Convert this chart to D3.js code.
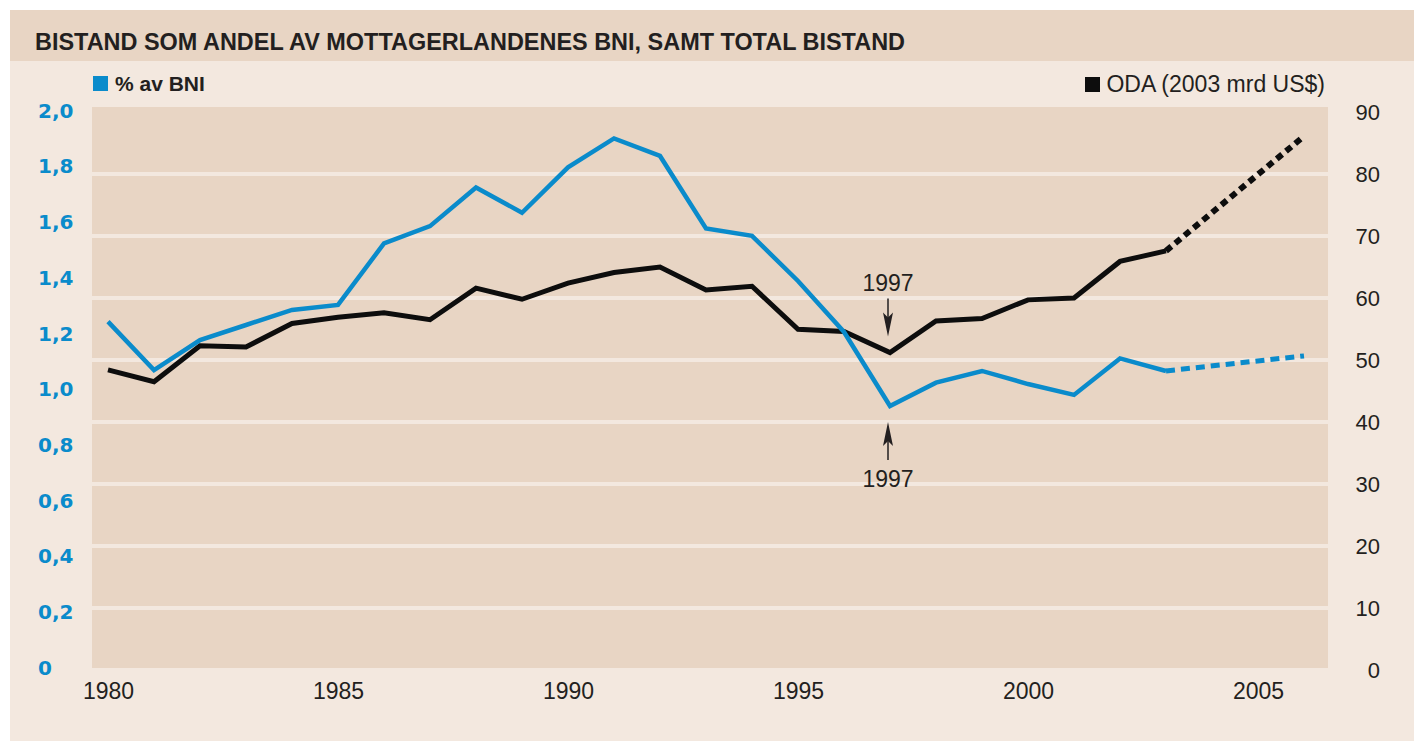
<!DOCTYPE html>
<html>
<head>
<meta charset="utf-8">
<script src="https://cdn.jsdelivr.net/npm/d3@7"></script>
<style>
  body { margin: 0; background: #fff; }
  svg { display: block; }
</style>
</head>
<body>
<div id="area"></div>
<script>
// data
var years = [1980, 1981, 1982, 1983, 1984, 1985, 1986, 1987, 1988, 1989, 1990, 1991,
             1992, 1993, 1994, 1995, 1996, 1997, 1998, 1999, 2000, 2001, 2002, 2003];
var bni = [1.24, 1.066, 1.174, 1.228, 1.282, 1.30, 1.521, 1.583, 1.722, 1.631, 1.794, 1.898,
           1.835, 1.575, 1.548, 1.386, 1.203, 0.937, 1.021, 1.063, 1.016, 0.977, 1.108, 1.063];
var oda = [48.4, 46.5, 52.3, 52.1, 55.9, 56.9, 57.6, 56.5, 61.6, 59.8, 62.4, 64.1,
           65.0, 61.3, 61.9, 54.95, 54.6, 51.2, 56.3, 56.7, 59.7, 60.0, 65.9, 67.6];
var projYears = [2003, 2006];
var bniProj = [1.063, 1.117];
var odaProj = [67.6, 86.1];

var xTicks = [1980, 1985, 1990, 1995, 2000, 2005];
var leftTicks = [0, 0.2, 0.4, 0.6, 0.8, 1.0, 1.2, 1.4, 1.6, 1.8, 2.0];
var rightTicks = [0, 10, 20, 30, 40, 50, 60, 70, 80, 90];

var titleText = "BISTAND SOM ANDEL AV MOTTAGERLANDENES BNI, SAMT TOTAL BISTAND";
var legendBni = "% av BNI";
var legendOda = "ODA (2003 mrd US$)";
var noteYear = 1997;

var width = 1424, height = 741;
var bgOuter = "#f3e8df", bgPlot = "#e8d5c4";
var blue = "#0a8bcb", black = "#0d0d0d", ink = "#231f20";
var plotL = 92, plotR = 1328, plotT = 107, plotB = 668;

var svg = d3.select("#area")
.append("svg")
  .attr("width", width)
  .attr("height", height);

// panels
svg.append("rect").attr("x", 10).attr("y", 10).attr("width", 1404).attr("height", 731).style("fill", bgOuter);
svg.append("rect").attr("x", 10).attr("y", 10).attr("width", 1404).attr("height", 51).style("fill", bgPlot);
svg.append("text")
  .attr("x", 35).attr("y", 50)
  .attr("textLength", 870).attr("lengthAdjust", "spacingAndGlyphs")
  .style("font-family", "'Liberation Sans', Arial, sans-serif")
  .style("font-weight", "bold").style("font-size", "24px").style("fill", ink)
  .text(titleText);

svg.append("rect")
  .attr("x", plotL).attr("y", plotT)
  .attr("width", plotR - plotL).attr("height", plotB - plotT)
  .style("fill", bgPlot);

var x = d3.scaleLinear().domain([1980, 2005]).range([108, 1258]);
var yL = d3.scaleLinear().domain([0, 2]).range([667, 110]);
var yR = d3.scaleLinear().domain([0, 90]).range([670, 112]);

// gridlines (drawn as light gaps)
svg.selectAll(".grid")
.data(rightTicks.filter(function(d) { return d > 0 && d < 90; }))
.enter()
.append("line")
  .attr("x1", plotL).attr("x2", plotR)
  .attr("y1", function(d) { return yR(d); })
  .attr("y2", function(d) { return yR(d); })
  .style("stroke", bgOuter).style("stroke-width", 4);

// axes
var fmt = function(d) { return d === 0 ? "0" : d3.format(".1f")(d).replace(".", ","); };

var gL = svg.append("g")
  .attr("transform", "translate(38,0)")
  .call(d3.axisLeft(yL).tickValues(leftTicks).tickSize(0).tickPadding(0).tickFormat(fmt));
gL.select(".domain").remove();
gL.selectAll("text")
  .attr("text-anchor", "start").attr("dy", "0.36em")
  .style("font-family", "'DejaVu Sans', sans-serif")
  .style("font-weight", "bold").style("font-size", "20px").style("fill", blue);

var gR = svg.append("g")
  .attr("transform", "translate(1380,0)")
  .call(d3.axisLeft(yR).tickValues(rightTicks).tickSize(0).tickPadding(0));
gR.select(".domain").remove();
gR.selectAll("text")
  .attr("dy", "0.36em")
  .style("font-family", "'Liberation Sans', Arial, sans-serif")
  .style("font-size", "22px").style("fill", ink);

var gX = svg.append("g")
  .attr("transform", "translate(0,683)")
  .call(d3.axisBottom(x).tickValues(xTicks).tickSize(0).tickPadding(0).tickFormat(d3.format("d")));
gX.select(".domain").remove();
gX.selectAll("text")
  .attr("dy", "0.71em")
  .style("font-family", "'Liberation Sans Narrow', 'Liberation Sans', Arial, sans-serif")
  .style("font-size", "23px").style("fill", ink);

// legends
svg.append("rect").attr("x", 93).attr("y", 76).attr("width", 15).attr("height", 15).style("fill", blue);
svg.append("text").attr("x", 115).attr("y", 91)
  .style("font-family", "'Liberation Sans', Arial, sans-serif")
  .style("font-weight", "bold").style("font-size", "21px").style("fill", ink)
  .text(legendBni);

svg.append("rect").attr("x", 1085).attr("y", 77).attr("width", 15).attr("height", 15).style("fill", black);
svg.append("text").attr("x", 1325).attr("y", 92).attr("text-anchor", "end")
  .style("font-family", "'Liberation Sans', Arial, sans-serif")
  .style("font-size", "23px").style("fill", ink)
  .text(legendOda);

// lines
var lineL = d3.line().x(function(d) { return x(d[0]); }).y(function(d) { return yL(d[1]); });
var lineR = d3.line().x(function(d) { return x(d[0]); }).y(function(d) { return yR(d[1]); });

svg.append("path")
  .datum(d3.zip(years, oda))
  .attr("d", lineR)
  .style("fill", "none").style("stroke", black).style("stroke-width", 5)
  .style("stroke-linejoin", "miter");
svg.append("path")
  .datum(d3.zip(projYears, odaProj))
  .attr("d", lineR)
  .style("fill", "none").style("stroke", black).style("stroke-width", 6)
  .style("stroke-dasharray", "7,5");

svg.append("path")
  .datum(d3.zip(years, bni))
  .attr("d", lineL)
  .style("fill", "none").style("stroke", blue).style("stroke-width", 4.5)
  .style("stroke-linejoin", "miter");
svg.append("path")
  .datum(d3.zip(projYears, bniProj))
  .attr("d", lineL)
  .style("fill", "none").style("stroke", blue).style("stroke-width", 5)
  .style("stroke-dasharray", "9,6");

// 1997 notes
var nx = x(noteYear) - 2;
var odaMin = yR(oda[years.indexOf(noteYear)]);
var bniMin = yL(bni[years.indexOf(noteYear)]);

var arrow = function(tipY, dir, len) {
  // dir = 1 points down, -1 points up
  var g = svg.append("g");
  g.append("line")
    .attr("x1", nx).attr("x2", nx)
    .attr("y1", tipY - dir * len).attr("y2", tipY - dir * 10)
    .style("stroke", ink).style("stroke-width", 1.5);
  g.append("path")
    .attr("d", "M" + nx + "," + tipY +
      "L" + (nx - 5) + "," + (tipY - dir * 24) +
      "L" + nx + "," + (tipY - dir * 19) +
      "L" + (nx + 5) + "," + (tipY - dir * 24) + "Z")
    .style("fill", ink);
};
arrow(odaMin - 16, 1, 38);
arrow(bniMin + 16, -1, 38);

svg.append("text").attr("x", nx).attr("y", odaMin - 62).attr("text-anchor", "middle")
  .style("font-family", "'Liberation Sans Narrow', 'Liberation Sans', Arial, sans-serif")
  .style("font-size", "23px").style("fill", ink).text(noteYear);
svg.append("text").attr("x", nx).attr("y", bniMin + 81).attr("text-anchor", "middle")
  .style("font-family", "'Liberation Sans Narrow', 'Liberation Sans', Arial, sans-serif")
  .style("font-size", "23px").style("fill", ink).text(noteYear);
</script>
</body>
</html>
